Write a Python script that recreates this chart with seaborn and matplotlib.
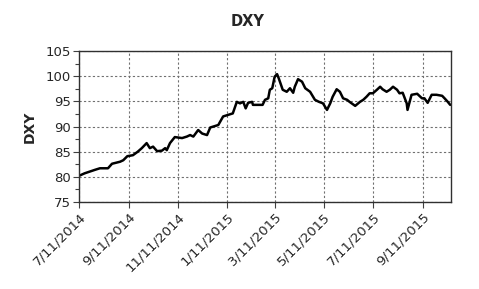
import matplotlib
matplotlib.use("Agg")
import matplotlib.pyplot as plt
from matplotlib.ticker import MultipleLocator
import pandas as pd
import seaborn as sns

dates = [
    "2014-07-11", "2014-07-18", "2014-07-31", "2014-08-06", "2014-08-16", "2014-08-21",
    "2014-08-31", "2014-09-04", "2014-09-09", "2014-09-16", "2014-09-22", "2014-09-27",
    "2014-10-03", "2014-10-07", "2014-10-11", "2014-10-16", "2014-10-22", "2014-10-26",
    "2014-10-28", "2014-11-01", "2014-11-07", "2014-11-16", "2014-11-22", "2014-11-26",
    "2014-11-30", "2014-12-06", "2014-12-11", "2014-12-17", "2014-12-21", "2014-12-27",
    "2014-12-31", "2015-01-06", "2015-01-12", "2015-01-18", "2015-01-23", "2015-01-27",
    "2015-01-31", "2015-02-03", "2015-02-06", "2015-02-11", "2015-02-12", "2015-02-18",
    "2015-02-24", "2015-02-27", "2015-03-03", "2015-03-05", "2015-03-08", "2015-03-11",
    "2015-03-14", "2015-03-16", "2015-03-21", "2015-03-26", "2015-03-30", "2015-04-03",
    "2015-04-05", "2015-04-09", "2015-04-14", "2015-04-18", "2015-04-24", "2015-04-30",
    "2015-05-05", "2015-05-10", "2015-05-15", "2015-05-19", "2015-05-22", "2015-05-27",
    "2015-05-31", "2015-06-04", "2015-06-09", "2015-06-12", "2015-06-19", "2015-06-25",
    "2015-06-29", "2015-07-03", "2015-07-07", "2015-07-11", "2015-07-16", "2015-07-20",
    "2015-07-23", "2015-07-28", "2015-08-01", "2015-08-05", "2015-08-10", "2015-08-13",
    "2015-08-17", "2015-08-22", "2015-08-23", "2015-08-28", "2015-09-04", "2015-09-10",
    "2015-09-13", "2015-09-17", "2015-09-22", "2015-09-28", "2015-10-05", "2015-10-08",
    "2015-10-12", "2015-10-15",
]
dxy = [
    80.2, 80.7, 81.4, 81.7, 81.7, 82.6,
    83.0, 83.3, 84.1, 84.3, 85.0, 85.7,
    86.7, 85.7, 86.0, 85.1, 85.2, 85.7,
    85.3, 86.7, 87.9, 87.7, 88.0, 88.3,
    88.0, 89.3, 88.6, 88.3, 89.8, 90.1,
    90.3, 92.0, 92.3, 92.6, 94.9, 94.6,
    94.9, 93.6, 94.7, 94.9, 94.3, 94.3,
    94.3, 95.3, 95.6, 97.3, 97.6, 99.9,
    100.4, 99.6, 97.3, 96.9, 97.6, 96.7,
    97.9, 99.4, 98.9, 97.6, 96.9, 95.3,
    94.9, 94.6, 93.3, 94.6, 95.9, 97.4,
    96.9, 95.6, 95.3, 94.9, 94.1, 94.9,
    95.3, 95.9, 96.6, 96.6, 97.3, 97.9,
    97.4, 96.9, 97.3, 97.9, 97.3, 96.6,
    96.7, 94.6, 93.3, 96.3, 96.5, 95.6,
    95.6, 94.7, 96.3, 96.3, 96.1, 95.6,
    94.9, 94.3,
]
tick_labels = ["7/11/2014", "9/11/2014", "11/11/2014", "1/11/2015",
               "3/11/2015", "5/11/2015", "7/11/2015", "9/11/2015"]
title = "DXY"

df = pd.DataFrame({"date": pd.to_datetime(dates), "DXY": dxy})

sns.set_style("white")
plt.rcParams["font.family"] = ["DejaVu Sans"]

fig = plt.figure(figsize=(4.79, 2.89), dpi=100)
ax = fig.add_axes([79 / 479, 1 - 202 / 289, (451 - 79) / 479, (202 - 51) / 289])

sns.lineplot(data=df, x="date", y="DXY", ax=ax, color="black", linewidth=1.8)

ax.set_xlim(pd.Timestamp("2014-07-11"), pd.Timestamp("2015-10-16"))
ax.set_ylim(75, 105)
ax.yaxis.set_major_locator(MultipleLocator(5))
ax.yaxis.set_minor_locator(MultipleLocator(2.5))

tick_dates = pd.to_datetime(tick_labels, format="%m/%d/%Y")
ax.set_xticks(tick_dates)
ax.set_xticklabels(tick_labels, rotation=45, ha="right", rotation_mode="anchor", fontsize=9.6)
ax.tick_params(axis="y", labelsize=9.5)

ax.tick_params(axis="both", which="major", direction="out", length=4, width=0.8,
               color="#404040", bottom=True, left=True, pad=2)
ax.tick_params(axis="y", which="minor", direction="out", length=3, width=0.8,
               color="#404040", left=True)

ax.grid(True, which="major", color="#707070", linestyle=(0, (2, 2)), linewidth=0.8)
for s in ax.spines.values():
    s.set_visible(True)
    s.set_color("#303030")
    s.set_linewidth(1.0)

ax.set_xlabel("")
ax.set_ylabel("DXY", fontsize=10, fontweight="bold", labelpad=6)
fig.text(248 / 479, 1 - 22 / 289, title, ha="center", va="center",
         fontsize=10.5, fontweight="bold")

fig.savefig("out.png", dpi=100)
